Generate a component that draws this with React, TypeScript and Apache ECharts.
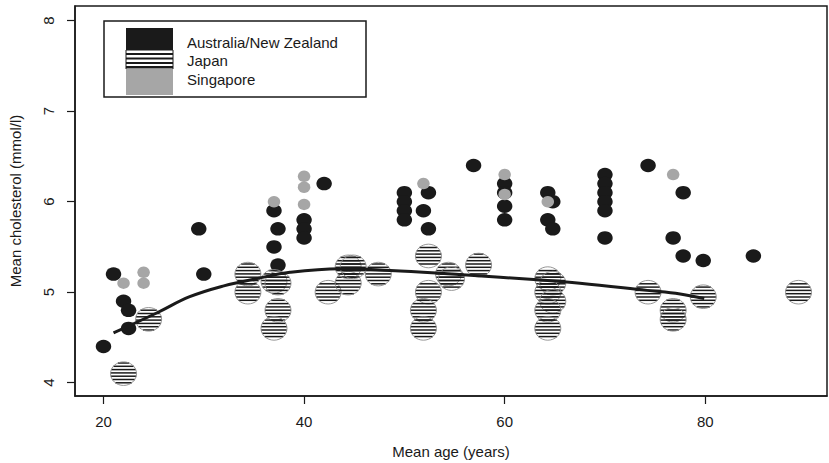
import React, { useEffect, useRef } from "react";
import * as echarts from "echarts";

// Australia / New Zealand study means
const ausAge = [20, 21, 22, 22.5, 22.5, 29.5, 30, 37, 37.4, 37, 37.4, 40, 40, 40, 42, 50, 50, 50, 50, 52.4, 51.9, 52.4, 56.9, 60, 60, 60, 60, 64.3, 64.8, 64.3, 64.8, 70, 70, 70, 70, 70, 70, 74.3, 77.8, 76.8, 77.8, 79.8, 84.8];
const ausChol = [4.4, 5.2, 4.9, 4.8, 4.6, 5.7, 5.2, 5.9, 5.7, 5.5, 5.3, 5.8, 5.7, 5.6, 6.2, 6.1, 6.0, 5.9, 5.8, 6.1, 5.9, 5.7, 6.4, 6.2, 6.1, 5.95, 5.8, 6.1, 6.0, 5.8, 5.7, 6.3, 6.2, 6.1, 6.0, 5.9, 5.6, 6.4, 6.1, 5.6, 5.4, 5.35, 5.4];

// Japan study means
const japanAge = [22, 24.5, 34.4, 34.4, 37, 37.4, 37.4, 37, 42.4, 44.4, 44.4, 44.9, 47.4, 52.4, 52.4, 51.9, 51.9, 54.4, 54.7, 57.4, 64.3, 64.8, 64.3, 64.8, 64.3, 64.3, 74.3, 76.8, 76.8, 79.8, 89.3];
const japanChol = [4.1, 4.7, 5.2, 5.0, 5.12, 5.1, 4.8, 4.6, 5.0, 5.1, 5.28, 5.28, 5.2, 5.4, 5.0, 4.8, 4.6, 5.2, 5.15, 5.3, 5.15, 5.1, 5.0, 4.9, 4.8, 4.6, 5.0, 4.8, 4.7, 4.95, 5.0];

// Singapore study means
const singAge = [22, 24, 24, 37, 40, 40, 40, 51.9, 60, 60, 64.3, 76.8];
const singChol = [5.1, 5.22, 5.1, 6.0, 6.28, 6.16, 5.97, 6.2, 6.3, 6.08, 6.0, 6.3];

// Fitted trend through the Japanese means
const fitAge = [21, 25.3, 28.6, 32, 35.3, 38.6, 43.6, 48.6, 53.6, 56.2, 62.9, 67.5, 74.2, 77.5, 79.9];
const fitChol = [4.55, 4.77, 4.95, 5.07, 5.15, 5.22, 5.26, 5.24, 5.21, 5.19, 5.14, 5.1, 5.02, 4.98, 4.93];

const ageTicks = [20, 40, 60, 80];
const cholTicks = [4, 5, 6, 7, 8];
const legendLabels = ["Australia/New Zealand", "Japan", "Singapore"];

const INK = "#1a1a1a";
const GREY = "#a6a6a6";
const FONT = '"Liberation Sans", Arial, Helvetica, sans-serif';
const STRIPE_GAP = 3.3;

const pairs = (xs: number[], ys: number[]) => xs.map((x, i) => [x, ys[i]]);

export default function App() {
  const ref = useRef<HTMLDivElement>(null);

  useEffect(() => {
    const chart = echarts.init(ref.current!, null, { renderer: "svg" });

    // Hatched circle: horizontal stripes on a shared page grid, plus a thin rim.
    const renderHatched = (_params: any, api: any) => {
      const pt = api.coord([api.value(0), api.value(1)]);
      const cx = pt[0];
      const cy = pt[1];
      const rx = 13;
      const ry = 11.8;
      const children: any[] = [];
      const start = Math.ceil((cy - ry + 0.5) / STRIPE_GAP) * STRIPE_GAP;
      for (let y = start; y < cy + ry - 0.5; y += STRIPE_GAP) {
        const t = (y - cy) / ry;
        const hw = rx * Math.sqrt(Math.max(0, 1 - t * t));
        children.push({
          type: "line",
          shape: { x1: cx - hw, y1: y, x2: cx + hw, y2: y },
          style: { stroke: INK, lineWidth: 1.5 },
        });
      }
      children.push({
        type: "ellipse",
        shape: { cx, cy, rx, ry },
        style: { fill: "none", stroke: "#8a8a8a", lineWidth: 0.9 },
      });
      return { type: "group", children };
    };

    const axisText = { color: INK, fontFamily: FONT, fontSize: 15 };

    chart.setOption({
      animation: false,
      backgroundColor: "#ffffff",
      grid: {
        left: 75,
        top: 6,
        width: 752,
        height: 390,
        show: true,
        containLabel: false,
        outerBoundsMode: "none",
        borderColor: INK,
        borderWidth: 1.5,
        backgroundColor: "transparent",
      },
      xAxis: {
        type: "value",
        min: 17.16,
        max: 92.14,
        name: "Mean age (years)",
        nameLocation: "middle",
        nameGap: 48,
        nameTextStyle: axisText,
        splitLine: { show: false },
        axisLine: { show: true, onZero: false, lineStyle: { color: INK, width: 1.5 } },
        axisTick: { show: true, length: 8, lineStyle: { color: INK, width: 1.2 }, customValues: ageTicks },
        axisLabel: { ...axisText, margin: 18, customValues: ageTicks },
      },
      yAxis: {
        type: "value",
        min: 3.853,
        max: 8.162,
        name: "Mean cholesterol (mmol/l)",
        nameLocation: "middle",
        nameRotate: 90,
        nameGap: 52,
        nameTextStyle: axisText,
        splitLine: { show: false },
        axisLine: { show: true, onZero: false, lineStyle: { color: INK, width: 1.5 } },
        axisTick: { show: true, length: 8, lineStyle: { color: INK, width: 1.2 }, customValues: cholTicks },
        // tick labels are drawn rotated, parallel to the axis, below
        axisLabel: { show: false },
      },
      series: [
        {
          name: legendLabels[0],
          type: "scatter",
          data: pairs(ausAge, ausChol),
          symbol: "circle",
          symbolSize: [15.5, 13.5],
          itemStyle: { color: INK, opacity: 1 },
          z: 2,
        },
        {
          name: legendLabels[1],
          type: "custom",
          data: pairs(japanAge, japanChol),
          encode: { x: 0, y: 1 },
          renderItem: renderHatched,
          z: 3,
        },
        {
          name: legendLabels[2],
          type: "scatter",
          data: pairs(singAge, singChol),
          symbol: "circle",
          symbolSize: [12.5, 11.5],
          itemStyle: { color: GREY, opacity: 1 },
          z: 4,
        },
        {
          name: "trend",
          type: "line",
          data: pairs(fitAge, fitChol),
          smooth: 0.4,
          showSymbol: false,
          lineStyle: { color: INK, width: 3 },
          z: 5,
        },
      ],
    });

    // Rotated y tick labels, placed with the axis scale.
    const yLabelX = 48;
    const yLabels = cholTicks.map((v) => ({
      type: "text",
      x: yLabelX,
      y: chart.convertToPixel({ yAxisIndex: 0 }, v) as number,
      rotation: Math.PI / 2,
      style: {
        text: String(v),
        fill: INK,
        font: `15px ${FONT}`,
        align: "center",
        verticalAlign: "middle",
      },
      z: 12,
    }));

    const legendX = 126;
    const legendW = 47;
    const japanStripes = [54, 58.5, 63, 67].map((y) => ({
      type: "line",
      shape: { x1: legendX, y1: y, x2: legendX + legendW, y2: y },
      style: { stroke: INK, lineWidth: 1.8 },
      z: 12,
    }));
    const legendTextY = [42, 60.5, 79];

    chart.setOption({
      graphic: [
        ...yLabels,
        {
          type: "rect",
          shape: { x: 104, y: 21, width: 262, height: 76 },
          style: { fill: "#ffffff", stroke: INK, lineWidth: 1.5 },
          z: 10,
        },
        {
          type: "rect",
          shape: { x: legendX, y: 28, width: legendW, height: 22 },
          style: { fill: INK },
          z: 11,
        },
        {
          type: "rect",
          shape: { x: legendX, y: 50, width: legendW, height: 19 },
          style: { fill: "#ffffff", stroke: INK, lineWidth: 1 },
          z: 11,
        },
        ...japanStripes,
        {
          type: "rect",
          shape: { x: legendX, y: 69, width: legendW, height: 26 },
          style: { fill: GREY },
          z: 11,
        },
        ...legendLabels.map((label, i) => ({
          type: "text",
          x: 187,
          y: legendTextY[i],
          style: {
            text: label,
            fill: INK,
            font: `15px ${FONT}`,
            verticalAlign: "middle",
          },
          z: 12,
        })),
      ],
    });

    return () => chart.dispose();
  }, []);

  return (
    <div
      ref={ref}
      style={{ position: "fixed", left: 0, top: 0, width: 829, height: 463, background: "#fff" }}
    />
  );
}
